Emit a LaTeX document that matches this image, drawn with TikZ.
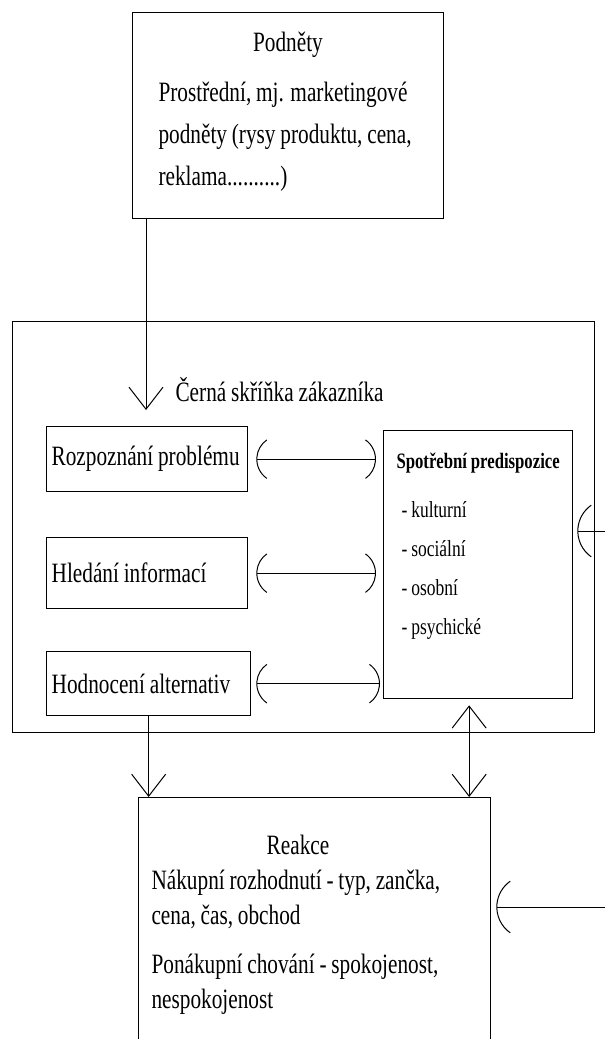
\documentclass[tikz,border=0pt]{standalone}
\usepackage{fontspec}
\setmainfont{Liberation Serif}[FakeStretch=0.76,WordSpace=0.9]
\usetikzlibrary{arrows.meta,positioning,calc}

\begin{document}
\begin{tikzpicture}[x=1pt,y=-1pt,>={Arc Barb[arc=110,length=24pt]},
every node/.style={font=\fontsize{28}{42}\selectfont},
block/.style={draw,rectangle,line width=1.3pt,inner sep=0pt,anchor=north west},
item/.style={draw,rectangle,line width=1.3pt,anchor=north west,inner xsep=5pt,align=flush left},
link/.style={line width=1pt},
vbarb/.style={>={Straight Barb[length=22pt,width=34pt]}},
bigbarb/.style={>={Arc Barb[arc=110,length=32pt]}}]
\clip (0,0) rectangle (605,1039);
\node[block,minimum width=311,minimum height=206] (podnety) at (132,12) {};
\node (podnetytit) at (288,45) {Podněty};
\node[anchor=north west,align=flush left] (podnetytxt) at (155,78) {Prostřední, mj. marketingové\\podněty (rysy produktu, cena,\\reklama..........)};
\node[block,minimum width=582,minimum height=411] (cerna) at (12,321) {};
\node[anchor=west] (cernatit) at (172,390) {Černá skříňka zákazníka};
\coordinate (cernain) at (146,410);
\draw[->,link,vbarb] (podnety.south -| cernain) -- (cernain);
\node[item,text width=191pt,minimum height=65] (rozp) at (46,426) {Rozpoznání problému};
\node[item,text width=191pt,minimum height=71] (hled) at (46,537) {Hledání informací};
\node[item,text width=194pt,minimum height=64] (hodn) at (46,651) {Hodnocení alternativ};
\node[block,minimum width=189,minimum height=268] (predisp) at (383,430) {};
\node[anchor=north,font=\bfseries\fontsize{22}{37}\selectfont] (predisptit) at ($(predisp.north)+(0,19)$) {Spotřební predispozice};
\node[anchor=north west,align=flush left,font=\fontsize{23}{39}\selectfont] (predisptxt) at (398,498) {- kulturní\\- sociální\\- osobní\\- psychické};
\draw[<->,link,shorten <=8pt,shorten >=7pt] (rozp.east) -- (rozp.east -| predisp.west);
\draw[<->,link,shorten <=8pt,shorten >=7pt] (hled.east) -- (hled.east -| predisp.west);
\draw[<->,link,shorten <=5pt,shorten >=3pt] (hodn.east) -- (hodn.east -| predisp.west);
\coordinate (predispin) at (605,531);
\draw[->,link,bigbarb,shorten >=4pt] (predispin) -- (predispin -| predisp.east);
\node[block,minimum width=352,minimum height=300] (reakce) at (138,797) {};
\node (reakcetit) at (298,845) {Reakce};
\node[anchor=north west,align=flush left,font=\fontsize{28}{35}\selectfont] (reakcetxt) at (148,866) {Nákupní rozhodnutí - typ, zančka,\\cena, čas, obchod\\[14pt]Ponákupní chování - spokojenost,\\nespokojenost};
\draw[->,link,vbarb] (hodn.south) -- (hodn.south |- reakce.north);
\coordinate (updown) at ($(predisp.south)+(-9,0)$);
\draw[<->,link,vbarb,shorten <=6pt] (updown) -- (updown |- reakce.north);
\coordinate (reakcein) at (605,907);
\draw[->,link,bigbarb,shorten >=5pt] (reakcein) -- (reakcein -| reakce.east);
\end{tikzpicture}
\end{document}
